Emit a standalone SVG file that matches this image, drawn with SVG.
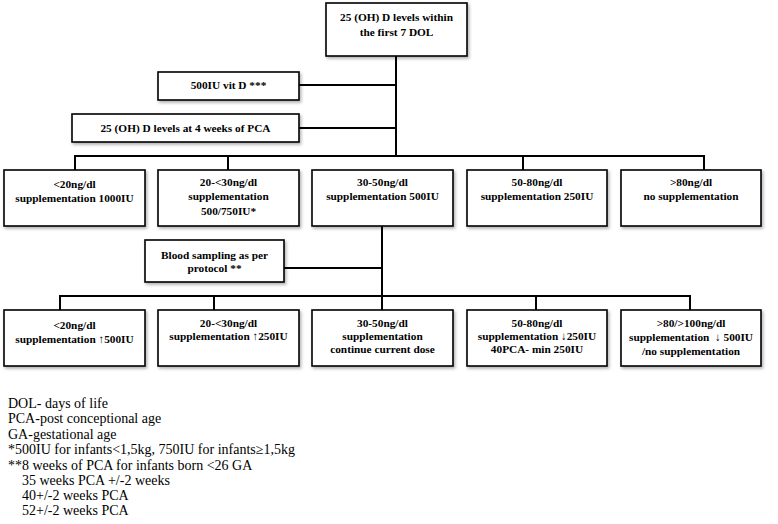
<svg xmlns="http://www.w3.org/2000/svg" width="778" height="524" viewBox="0 0 778 524">
<style>
.box{fill:#fff;stroke:#000;stroke-width:1.6;filter:url(#sh)}
.t{font-family:"Liberation Serif","Times New Roman",serif;font-size:11.3px;font-weight:bold;text-anchor:middle;fill:#000}
.c{stroke:#000;stroke-width:2;fill:none}
.lg{font-family:"Liberation Serif","Times New Roman",serif;font-size:14px;fill:#000}
</style>
<defs>
<filter id="sh" x="-10%" y="-10%" width="130%" height="140%">
<feDropShadow dx="1.5" dy="2" stdDeviation="1.5" flood-color="#000" flood-opacity="0.3"/>
</filter>
</defs>
<g id="connectors">
<path class="c" d="M396,56 V156"/>
<path class="c" d="M299,85 H396"/>
<path class="c" d="M299,128 H396"/>
<path class="c" d="M75,170 V156 H704 V170"/>
<path class="c" d="M228,156 V170"/>
<path class="c" d="M523,156 V170"/>
<path class="c" d="M382,226 V310"/>
<path class="c" d="M284,268 H382"/>
<path class="c" d="M60,310 V296 H690 V310"/>
<path class="c" d="M214,296 V310"/>
<path class="c" d="M536,296 V310"/>
</g>
<g id="top">
<rect class="box" x="326" y="3" width="141" height="53"/>
<text class="t" x="396.5" y="21">25 (OH) D levels within</text>
<text class="t" x="396.5" y="36">the first 7 DOL</text>
</g>
<g id="vitd">
<rect class="box" x="158" y="72" width="141" height="28"/>
<text class="t" x="228.5" y="89">500IU vit D ***</text>
</g>
<g id="pca4">
<rect class="box" x="72" y="114" width="227" height="28"/>
<text class="t" x="185.5" y="132">25 (OH) D levels at 4 weeks of PCA</text>
</g>
<g id="r1b1">
<rect class="box" x="4" y="170" width="141" height="56"/>
<text class="t" x="74.5" y="188">&lt;20ng/dl</text>
<text class="t" x="74.5" y="202">supplementation 1000IU</text>
</g>
<g id="r1b2">
<rect class="box" x="158" y="170" width="141" height="56"/>
<text class="t" x="228.5" y="186">20-&lt;30ng/dl</text>
<text class="t" x="228.5" y="200">supplementation</text>
<text class="t" x="228.5" y="215">500/750IU*</text>
</g>
<g id="r1b3">
<rect class="box" x="312" y="170" width="141" height="56"/>
<text class="t" x="382.5" y="186">30-50ng/dl</text>
<text class="t" x="382.5" y="200">supplementation 500IU</text>
</g>
<g id="r1b4">
<rect class="box" x="467" y="170" width="140" height="56"/>
<text class="t" x="537" y="186">50-80ng/dl</text>
<text class="t" x="537" y="200">supplementation 250IU</text>
</g>
<g id="r1b5">
<rect class="box" x="621" y="170" width="140" height="56"/>
<text class="t" x="691" y="186">&gt;80ng/dl</text>
<text class="t" x="691" y="200">no supplementation</text>
</g>
<g id="blood">
<rect class="box" x="145" y="240" width="139" height="42"/>
<text class="t" x="214.5" y="259">Blood sampling as per</text>
<text class="t" x="214.5" y="272">protocol **</text>
</g>
<g id="r2b1">
<rect class="box" x="4" y="310" width="141" height="56"/>
<text class="t" x="74.5" y="329">&lt;20ng/dl</text>
<text class="t" x="74.5" y="343">supplementation ↑500IU</text>
</g>
<g id="r2b2">
<rect class="box" x="158" y="310" width="141" height="56"/>
<text class="t" x="228.5" y="327">20-&lt;30ng/dl</text>
<text class="t" x="228.5" y="340">supplementation ↑250IU</text>
</g>
<g id="r2b3">
<rect class="box" x="312" y="310" width="141" height="56"/>
<text class="t" x="382.5" y="327">30-50ng/dl</text>
<text class="t" x="382.5" y="340">supplementation</text>
<text class="t" x="382.5" y="353">continue current dose</text>
</g>
<g id="r2b4">
<rect class="box" x="467" y="310" width="140" height="56"/>
<text class="t" x="537" y="327">50-80ng/dl</text>
<text class="t" x="537" y="340">supplementation ↓250IU</text>
<text class="t" x="537" y="353">40PCA- min 250IU</text>
</g>
<g id="r2b5">
<rect class="box" x="621" y="310" width="140" height="56"/>
<text class="t" x="691" y="327">&gt;80/&gt;100ng/dl</text>
<text class="t" x="691" y="341" xml:space="preserve">supplementation  ↓ 500IU</text>
<text class="t" x="691" y="355">/no supplementation</text>
</g>
<g id="legend">
<text class="lg" x="8" y="408">DOL- days of life</text>
<text class="lg" x="8" y="423">PCA-post conceptional age</text>
<text class="lg" x="8" y="439">GA-gestational age</text>
<text class="lg" x="8" y="454">*500IU for infants&lt;1,5kg, 750IU for infants≥1,5kg</text>
<text class="lg" x="8" y="470">**8 weeks of PCA for infants born &lt;26 GA</text>
<text class="lg" x="22" y="485">35 weeks PCA +/-2 weeks</text>
<text class="lg" x="22" y="500">40+/-2 weeks PCA</text>
<text class="lg" x="22" y="515">52+/-2 weeks PCA</text>
</g>
</svg>
